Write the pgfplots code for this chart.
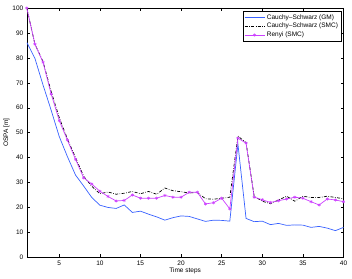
\documentclass[border=0pt]{standalone}
\usepackage{pgfplots}
\pgfplotsset{compat=1.18}
\usepackage{fontspec}
\setmainfont{Liberation Sans}
\definecolor{cgm}{rgb}{0.22,0.38,1}
\definecolor{crenyi}{rgb}{0.8,0.25,1}
\begin{document}
\begin{tikzpicture}
\begin{axis}[
  scale only axis,
  width=316.7pt, height=249.3pt,
  xmin=1, xmax=40, ymin=0, ymax=100,
  xtick={5,10,...,40}, ytick={0,10,...,100},
  tick align=inside,
  tick pos=both,
  major tick length=3pt,
  tick style={black, line width=0.4pt},
  axis line style={black, line width=0.5pt},
  every tick label/.style={font=\fontsize{6.5}{7}\selectfont},
  /pgf/number format/assume math mode=true,
  xlabel={Time steps}, ylabel={OSPA [m]},
  label style={font=\fontsize{6.5}{7}\selectfont},
  xlabel style={yshift=5pt},
  ylabel style={yshift=-4pt},
  legend style={at={(0.993,0.987)}, anchor=north east, font=\fontsize{6.5}{7}\selectfont,
    draw=black, line width=0.5pt, inner sep=1pt, row sep=-1.5pt, cells={anchor=west}},
  legend cell align=left,
  legend image code/.code={\draw[mark repeat=2,mark phase=2,#1] plot coordinates {(0pt,0pt)(10pt,0pt)(20pt,0pt)};},
]
\addplot[cgm, line width=0.7pt] coordinates {
(1,86.2)(2,79.8)(3,69.1)(4,59)(5,48.4)(6,40.4)(7,33)(8,28.6)(9,24)(10,20.9)
(11,20)(12,19.6)(13,21)(14,18)(15,18.5)(16,17.3)(17,16.2)(18,14.9)(19,15.9)(20,16.6)
(21,16.4)(22,15.4)(23,14.4)(24,14.9)(25,14.8)(26,14.5)(27,45.4)(28,15.6)(29,14.3)(30,14.5)
(31,13.1)(32,13.6)(33,12.8)(34,13)(35,12.9)(36,12)(37,12.4)(38,11.7)(39,10.7)(40,12)};
\addlegendentry{Cauchy--Schwarz (GM)}
\addplot[black, line width=0.7pt, dash pattern=on 3pt off 1.5pt on 0.6pt off 1.5pt] coordinates {
(1,100)(2,85.5)(3,78.5)(4,66.5)(5,56)(6,47.5)(7,40)(8,32.5)(9,28.5)(10,25.5)
(11,26.2)(12,25.3)(13,25.7)(14,26.4)(15,25.5)(16,26.4)(17,25.3)(18,27.8)(19,26.7)(20,26.3)
(21,25.8)(22,26)(23,23.5)(24,23.3)(25,23.7)(26,24.1)(27,48.6)(28,46)(29,24.5)(30,22.5)
(31,21.5)(32,23)(33,24.5)(34,22.5)(35,24.5)(36,24)(37,24)(38,24.5)(39,24)(40,23.5)};
\addlegendentry{Cauchy--Schwarz (SMC)}
\addplot[crenyi, line width=0.7pt, mark=asterisk, mark size=1.6pt, mark options={line width=0.5pt}] coordinates {
(1,100)(2,85.5)(3,78.2)(4,65.5)(5,54.8)(6,47)(7,39.3)(8,31.9)(9,29.4)(10,26.5)
(11,24.4)(12,22.6)(13,22.8)(14,25)(15,23.7)(16,23.7)(17,23.7)(18,24.8)(19,24.1)(20,24.1)
(21,26.1)(22,26.1)(23,21.4)(24,21.9)(25,23.7)(26,19.4)(27,47.8)(28,45.8)(29,24.1)(30,23.1)
(31,22)(32,22.7)(33,23.4)(34,24.1)(35,23.7)(36,22.3)(37,21)(38,23.4)(39,23)(40,22.3)};
\addlegendentry{Renyi (SMC)}
\end{axis}
\useasboundingbox ([xshift=-26.8pt,yshift=-20.7pt]current axis.south west) rectangle ([xshift=8.5pt,yshift=8pt]current axis.north east);
\end{tikzpicture}
\end{document}
